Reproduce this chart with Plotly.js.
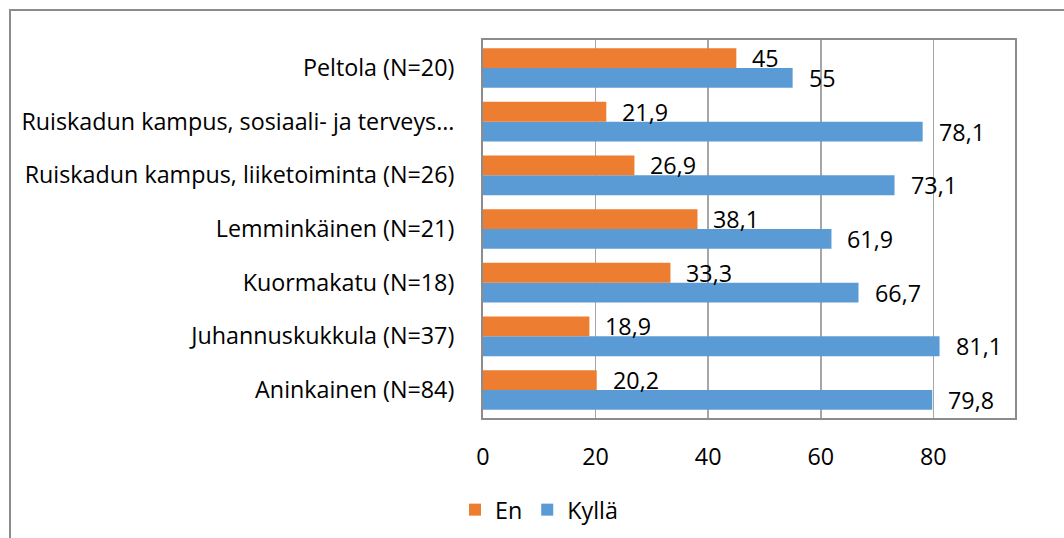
<!DOCTYPE html>
<html>
<head>
<meta charset="utf-8">
<script src="https://cdn.plot.ly/plotly-3.0.1.min.js"></script>
<style>
  html, body { margin: 0; padding: 0; background: #ffffff; }
  #chart { width: 1064px; height: 538px; }
</style>
</head>
<body>
<div id="chart"></div>
<script>
// Categories, listed bottom to top
const categories = [
  "Aninkainen (N=84)",
  "Juhannuskukkula (N=37)",
  "Kuormakatu (N=18)",
  "Lemminkäinen (N=21)",
  "Ruiskadun kampus, liiketoiminta (N=26)",
  "Ruiskadun kampus, sosiaali- ja terveys…",
  "Peltola (N=20)"
];
const enValues    = [20.2, 18.9, 33.3, 38.1, 26.9, 21.9, 45];
const kyllaValues = [79.8, 81.1, 66.7, 61.9, 73.1, 78.1, 55];
const seriesNames = ["En", "Kyllä"];
const xTickValues = [0, 20, 40, 60, 80];

const FONT = "'Open Sans', Lato, sans-serif";
const FS = 23.3;
const fmt = v => String(v).replace('.', ',');

const traces = [
  {
    type: 'bar', orientation: 'h', name: seriesNames[1],
    y: categories, x: kyllaValues,
    marker: { color: '#5b9bd5', line: { width: 0 } },
    hoverinfo: 'skip'
  },
  {
    type: 'bar', orientation: 'h', name: seriesNames[0],
    y: categories, x: enValues,
    marker: { color: '#ed7d31', line: { width: 0 } },
    hoverinfo: 'skip'
  }
];

const annotations = [];
categories.forEach((c, i) => {
  annotations.push({
    x: enValues[i], y: c, xref: 'x', yref: 'y',
    text: fmt(enValues[i]), showarrow: false,
    xanchor: 'left', yanchor: 'middle', xshift: 14, yshift: 10,
    font: { family: FONT, size: FS, color: '#000' }
  });
  annotations.push({
    x: kyllaValues[i], y: c, xref: 'x', yref: 'y',
    text: fmt(kyllaValues[i]), showarrow: false,
    xanchor: 'left', yanchor: 'middle', xshift: 14, yshift: -10,
    font: { family: FONT, size: FS, color: '#000' }
  });
});

const layout = {
  width: 1064, height: 538,
  paper_bgcolor: '#ffffff', plot_bgcolor: '#ffffff',
  margin: { l: 483, r: 49, t: 40, b: 120, pad: 0, autoexpand: false },
  font: { family: FONT, size: FS, color: '#000' },
  barmode: 'group', bargap: 0.26, bargroupgap: 0,
  showlegend: true,
  legend: {
    orientation: 'h', traceorder: 'reversed',
    xref: 'container', yref: 'container',
    x: 455 / 1064, xanchor: 'left', y: (538 - 510) / 538, yanchor: 'middle',
    font: { family: FONT, size: FS, color: '#000' },
    itemwidth: 30
  },
  xaxis: {
    range: [0, 94.5], tickvals: xTickValues, ticktext: xTickValues.map(String),
    showgrid: true, gridcolor: '#a6a6a6', gridwidth: 1.5,
    zeroline: false, showline: true, mirror: true,
    linecolor: '#8c8c8c', linewidth: 2,
    ticks: '', ticklabelstandoff: 17, automargin: false,
    tickfont: { family: FONT, size: FS, color: '#000' },
    fixedrange: true
  },
  yaxis: {
    type: 'category', categoryorder: 'array', categoryarray: categories,
    showgrid: false, zeroline: false, showline: true, mirror: true,
    linecolor: '#8c8c8c', linewidth: 2,
    ticks: '', ticklabelstandoff: 22, automargin: false,
    tickfont: { family: FONT, size: FS, color: '#000' },
    fixedrange: true
  },
  annotations: annotations
};

// Outer frame (top and left edges) in pixel-derived paper coords
const plotW = 1064 - 483 - 49, plotH = 538 - 40 - 120;
const px = x => (x - 483) / plotW;
const py = y => (538 - 120 - y) / plotH;
layout.shapes = [
  { type: 'line', xref: 'paper', yref: 'paper', x0: px(9), x1: px(1070), y0: py(10), y1: py(10),
    line: { color: '#8c8c8c', width: 2 } },
  { type: 'line', xref: 'paper', yref: 'paper', x0: px(10), x1: px(10), y0: py(9), y1: py(545),
    line: { color: '#8c8c8c', width: 2 } }
];

Plotly.newPlot('chart', traces, layout, { displayModeBar: false, staticPlot: true });
</script>
</body>
</html>
